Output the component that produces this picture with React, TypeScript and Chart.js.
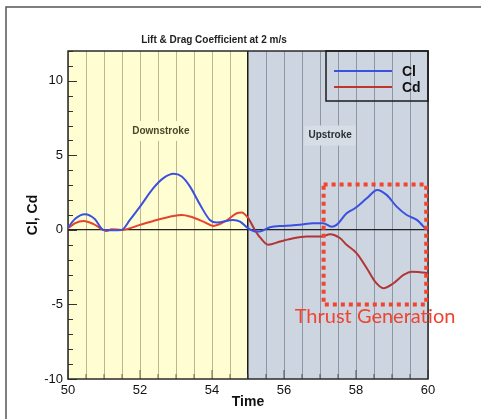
import { useEffect, useRef } from 'react';
import { Chart, registerables } from 'chart.js';

Chart.register(...registerables);

const titleText = 'Lift & Drag Coefficient at 2 m/s';
const seriesNames = ['Cl', 'Cd'];

const clTime = [50, 50.2, 50.47, 50.75, 50.98, 51.2, 51.49, 51.72, 52, 52.37, 52.65, 52.93, 53.16, 53.39, 53.67, 53.94, 54.13, 54.59, 54.78, 55, 55.2, 55.33, 55.61, 55.98, 56.44, 56.81, 57.09, 57.32, 57.46, 57.74, 57.97, 58.3, 58.59, 58.85, 59.13, 59.41, 59.69, 59.96];
const clValues = [0.15, 0.75, 1.05, 0.72, 0, -0.03, 0, 0.67, 1.56, 2.8, 3.47, 3.76, 3.58, 2.9, 1.68, 0.67, 0.49, 0.67, 0.56, 0.11, -0.1, -0.1, 0.18, 0.27, 0.34, 0.45, 0.45, 0.22, 0.34, 1.12, 1.45, 2.12, 2.68, 2.35, 1.56, 1.0, 0.67, 0.0];

const cdTime = [50, 50.2, 50.43, 50.7, 50.98, 51.07, 51.21, 51.49, 52, 52.46, 52.93, 53.16, 53.39, 53.76, 54.04, 54.4, 54.69, 54.82, 55, 55.19, 55.33, 55.56, 55.89, 56.26, 56.63, 57.05, 57.28, 57.56, 57.74, 58.02, 58.3, 58.53, 58.76, 59.04, 59.32, 59.55, 59.78, 60];
const cdValues = [0.1, 0.45, 0.6, 0.4, 0, -0.07, 0.05, 0, 0.34, 0.67, 0.94, 1.0, 0.9, 0.56, 0.27, 0.63, 1.12, 1.16, 0.8, 0.0, -0.49, -1.0, -0.78, -0.56, -0.45, -0.45, -0.29, -0.56, -1.0, -1.57, -2.57, -3.47, -3.91, -3.58, -3.02, -2.8, -2.84, -2.9];

const xTickLabels = [50, 52, 54, 56, 58, 60];
const yTickLabels = [-10, -5, 0, 5, 10];

const phaseNames = ['Downstroke', 'Upstroke'];
const phaseStart = [50, 55];
const phaseEnd = [55, 60];
const phaseLabelTime = [52.58, 57.28];
const phaseLabelValue = [6.64, 6.33];

const annotationText = 'Thrust Generation';
const thrustBoxTime = [57.1, 59.95];
const thrustBoxValue = [3.05, -5.0];
const annotationTextTime = 58.53;
const annotationTextValue = -5.84;

const BLUE = '#3C50E0';
const RED_LIGHT = '#E5432D';
const RED_DARK = '#B23535';
const YELLOW_BG = '#FFFDD2';
const GRAY_BG = '#CDD5E1';

const decor = {
  id: 'decor',
  beforeDraw(chart: any) {
    const { ctx, chartArea: a, scales } = chart;
    const x = scales.x;
    ctx.save();
    ctx.fillStyle = '#ffffff';
    ctx.fillRect(0, 0, chart.width, chart.height);
    const colors = [YELLOW_BG, GRAY_BG];
    for (let i = 0; i < phaseStart.length; i++) {
      const x0 = x.getPixelForValue(phaseStart[i]);
      const x1 = x.getPixelForValue(phaseEnd[i]);
      ctx.fillStyle = colors[i];
      ctx.fillRect(x0, a.top, x1 - x0, a.bottom - a.top);
    }
    ctx.restore();
  },
  beforeDatasetsDraw(chart: any) {
    const { ctx, chartArea: a, scales } = chart;
    const x = scales.x;
    const y = scales.y;
    ctx.save();
    // phase labels
    ctx.font = 'bold 10px "Liberation Sans", Arial, sans-serif';
    ctx.textAlign = 'center';
    ctx.textBaseline = 'middle';
    const boxColors = [YELLOW_BG, '#D7DDE5'];
    const textColors = ['#4a4828', '#2a2e36'];
    for (let i = 0; i < phaseNames.length; i++) {
      const px = x.getPixelForValue(phaseLabelTime[i]);
      const py = y.getPixelForValue(phaseLabelValue[i]);
      const w = ctx.measureText(phaseNames[i]).width + 8;
      ctx.fillStyle = boxColors[i];
      ctx.fillRect(px - w / 2, py - 10, w, 20);
      ctx.fillStyle = textColors[i];
      ctx.fillText(phaseNames[i], px, py);
    }
    // inward y ticks
    ctx.strokeStyle = '#333';
    ctx.lineWidth = 1;
    for (const t of y.ticks) {
      const v = t.value;
      const py = Math.round(y.getPixelForValue(v)) + 0.5;
      const len = v % 5 === 0 ? 9 : 5;
      ctx.beginPath();
      ctx.moveTo(a.left, py);
      ctx.lineTo(a.left + len, py);
      ctx.stroke();
    }
    // inward x ticks
    for (const t of x.ticks) {
      const v = t.value;
      const px = x.getPixelForValue(v);
      const len = xTickLabels.includes(v) ? 9 : 5;
      ctx.strokeStyle = v < 55 ? '#6e6a40' : '#4a505a';
      ctx.beginPath();
      ctx.moveTo(px, a.bottom);
      ctx.lineTo(px, a.bottom - len);
      ctx.stroke();
    }
    // chart area border
    ctx.strokeStyle = '#2a2a2a';
    ctx.lineWidth = 1.5;
    ctx.strokeRect(a.left, a.top, a.right - a.left, a.bottom - a.top);
    ctx.restore();
  },
  afterDraw(chart: any) {
    const { ctx, chartArea: a, scales } = chart;
    const x = scales.x;
    const y = scales.y;
    ctx.save();
    // legend
    const bl = a.right - 102;
    const bt = a.top;
    ctx.strokeStyle = '#1a1a1a';
    ctx.lineWidth = 1.5;
    ctx.strokeRect(bl, bt, 102, 50);
    const legendColors = [BLUE, '#C0352E'];
    ctx.font = 'bold 14px "Liberation Sans", Arial, sans-serif';
    ctx.textAlign = 'left';
    ctx.textBaseline = 'middle';
    for (let i = 0; i < seriesNames.length; i++) {
      const ly = bt + 20 + i * 16;
      ctx.strokeStyle = legendColors[i];
      ctx.lineWidth = 2;
      ctx.beginPath();
      ctx.moveTo(bl + 8, ly);
      ctx.lineTo(bl + 66, ly);
      ctx.stroke();
      ctx.fillStyle = '#111';
      ctx.fillText(seriesNames[i], bl + 76, ly + 1);
    }
    // thrust box
    const rx0 = x.getPixelForValue(thrustBoxTime[0]);
    const rx1 = x.getPixelForValue(thrustBoxTime[1]);
    const ry0 = y.getPixelForValue(thrustBoxValue[0]);
    const ry1 = y.getPixelForValue(thrustBoxValue[1]);
    ctx.strokeStyle = '#F2442E';
    ctx.lineWidth = 4;
    ctx.setLineDash([4, 4]);
    ctx.strokeRect(rx0, ry0, rx1 - rx0, ry1 - ry0);
    ctx.setLineDash([]);
    ctx.fillStyle = '#EE4430';
    ctx.font = '20px Lato, "Liberation Sans", sans-serif';
    ctx.textAlign = 'center';
    ctx.textBaseline = 'middle';
    ctx.fillText(annotationText, x.getPixelForValue(annotationTextTime), y.getPixelForValue(annotationTextValue));
    // outer frame
    ctx.strokeStyle = '#555';
    ctx.lineWidth = 1.5;
    ctx.beginPath();
    ctx.moveTo(chart.width, 7);
    ctx.lineTo(6, 7);
    ctx.lineTo(6, chart.height);
    ctx.stroke();
    ctx.restore();
  },
};

export default function App() {
  const ref = useRef<HTMLCanvasElement | null>(null);
  useEffect(() => {
    if (!ref.current) return;
    const segColor = (c: any) => (c.p0.parsed.x >= 55 ? RED_DARK : RED_LIGHT);
    const chart = new Chart(ref.current, {
      type: 'line',
      data: {
        datasets: [
          {
            label: seriesNames[0],
            data: clTime.map((t, i) => ({ x: t, y: clValues[i] })),
            borderColor: BLUE,
            borderWidth: 2,
            pointRadius: 0,
            cubicInterpolationMode: 'monotone',
            fill: false,
          },
          {
            label: seriesNames[1],
            data: cdTime.map((t, i) => ({ x: t, y: cdValues[i] })),
            borderColor: RED_DARK,
            segment: { borderColor: segColor },
            borderWidth: 2,
            pointRadius: 0,
            cubicInterpolationMode: 'monotone',
            fill: false,
          },
        ],
      },
      options: {
        responsive: false,
        animation: false,
        layout: { padding: { left: 0, right: 53, top: 0, bottom: 0 } },
        plugins: {
          legend: { display: false },
          tooltip: { enabled: false },
          title: {
            display: true,
            text: titleText,
            color: '#222',
            font: { family: '"Liberation Sans", Arial, sans-serif', size: 10, weight: 'bold' },
            padding: { top: 34, bottom: 5 },
          },
        },
        scales: {
          x: {
            type: 'linear',
            min: 50,
            max: 60,
            afterFit: (s: any) => { s.height = 40; },
            border: { display: false },
            grid: {
              drawTicks: false,
              color: (c: any) => (c.tick && c.tick.value === 55 ? '#1a1a1a' : c.tick && c.tick.value < 55 ? '#BDB690' : '#8E96A3'),
              lineWidth: (c: any) => (c.tick && c.tick.value === 55 ? 1.5 : 1),
            },
            ticks: {
              stepSize: 0.5,
              autoSkip: false,
              maxRotation: 0,
              padding: 4,
              color: '#111',
              font: { family: '"Liberation Sans", Arial, sans-serif', size: 13 },
              callback: (v: any) => (xTickLabels.includes(Number(v)) ? String(v) : ''),
            },
            title: {
              display: true,
              text: 'Time',
              color: '#111',
              font: { family: '"Liberation Sans", Arial, sans-serif', size: 14, weight: 'bold' },
              padding: { top: 0, bottom: 8 },
            },
          },
          y: {
            type: 'linear',
            min: -10,
            max: 12,
            afterFit: (s: any) => { s.width = 68; },
            border: { display: false },
            grid: {
              drawTicks: false,
              color: (c: any) => (c.tick && c.tick.value === 0 ? '#222' : 'rgba(0,0,0,0)'),
              lineWidth: 1.2,
            },
            ticks: {
              stepSize: 1,
              autoSkip: false,
              padding: 5,
              color: '#111',
              font: { family: '"Liberation Sans", Arial, sans-serif', size: 13 },
              callback: (v: any) => (yTickLabels.includes(Number(v)) ? String(v) : ''),
            },
            title: {
              display: true,
              text: 'Cl, Cd',
              color: '#111',
              font: { family: '"Liberation Sans", Arial, sans-serif', size: 14, weight: 'bold' },
              padding: { top: 25, bottom: 0 },
            },
          },
        },
      },
      plugins: [decor],
    } as any);
    return () => chart.destroy();
  }, []);
  return (
    <div style={{ position: 'absolute', left: 0, top: 0, width: 481, height: 419 }}>
      <canvas ref={ref} width={481} height={419} style={{ display: 'block' }} />
    </div>
  );
}
